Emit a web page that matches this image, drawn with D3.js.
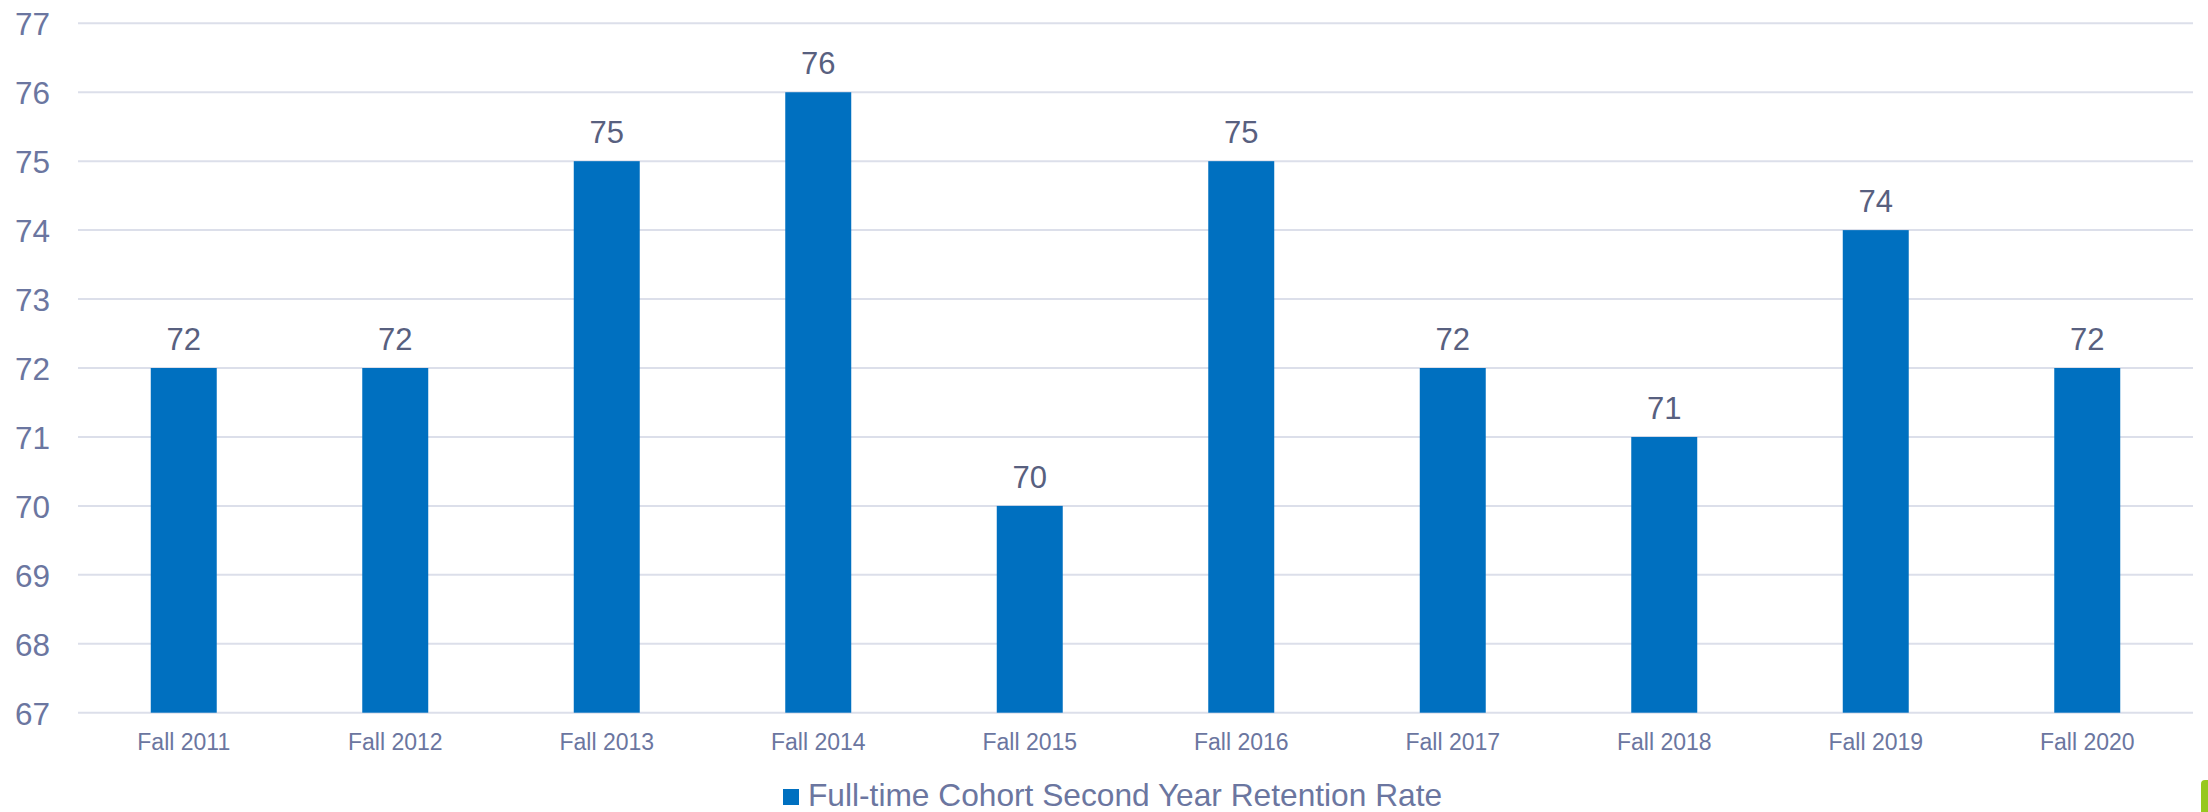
<!DOCTYPE html>
<html>
<head>
<meta charset="utf-8">
<script src="https://cdn.jsdelivr.net/npm/d3@7"></script>
<style>
  html, body { margin: 0; padding: 0; background: #fff; }
  svg { display: block; font-family: "Liberation Sans", Arial, sans-serif; }
</style>
</head>
<body>
<svg id="chart"></svg>
<script>
// data
var terms = ["Fall 2011", "Fall 2012", "Fall 2013", "Fall 2014", "Fall 2015",
             "Fall 2016", "Fall 2017", "Fall 2018", "Fall 2019", "Fall 2020"];
var retention = [72, 72, 75, 76, 70, 75, 72, 71, 74, 72];
var yTicks = [67, 68, 69, 70, 71, 72, 73, 74, 75, 76, 77];
var seriesName = "Full-time Cohort Second Year Retention Rate";

var dimensions = {
    width: 2208,
    height: 812,
    plotLeft: 78,
    plotRight: 2193,
    plotTop: 23.3,
    plotBottom: 712.7
}

var barColor = "#0070C0"
var tickColor = "#6B76A0"
var labelColor = "#58607F"
var gridColor = "#DCDFEA"

var svg = d3.select("#chart")
            .attr("width", dimensions.width)
            .attr("height", dimensions.height)

var xScale = d3.scaleBand()
        .domain(terms)
        .range([dimensions.plotLeft, dimensions.plotRight])
        .paddingInner(0.688)
        .paddingOuter(0.344)

var yScale = d3.scaleLinear()
        .domain([67, 77])
        .range([dimensions.plotBottom, dimensions.plotTop])

// gridlines
svg.append("g")
    .selectAll("line")
    .data(yTicks)
    .enter()
    .append("line")
    .attr("x1", dimensions.plotLeft)
    .attr("x2", dimensions.plotRight)
    .attr("y1", d => yScale(d))
    .attr("y2", d => yScale(d))
    .attr("stroke", gridColor)
    .attr("stroke-width", 2)

// y axis
var yAxis = svg.append("g")
    .attr("transform", `translate(${50}, 0)`)
    .call(d3.axisLeft(yScale).tickValues(yTicks).tickSize(0).tickPadding(0).tickFormat(d3.format("d")))
yAxis.select(".domain").remove()
yAxis.selectAll("text")
    .attr("fill", tickColor)
    .style("font-size", "31.5px")
    .attr("dy", "0.36em")

// bars
svg.append("g")
    .selectAll("rect")
    .data(retention)
    .enter()
    .append("rect")
    .attr("x", (d, i) => xScale(terms[i]))
    .attr("width", xScale.bandwidth())
    .attr("y", d => yScale(d))
    .attr("height", d => yScale(67) - yScale(d))
    .attr("fill", barColor)

// data labels
svg.append("g")
    .selectAll("text")
    .data(retention)
    .enter()
    .append("text")
    .attr("x", (d, i) => xScale(terms[i]) + xScale.bandwidth() / 2)
    .attr("y", d => yScale(d) - 18)
    .attr("text-anchor", "middle")
    .attr("fill", labelColor)
    .style("font-size", "31px")
    .text(d => d)

// x axis
var xAxis = svg.append("g")
    .attr("transform", `translate(0, ${dimensions.plotBottom})`)
    .call(d3.axisBottom(xScale).tickSize(0).tickPadding(0))
xAxis.select(".domain").remove()
xAxis.selectAll("text")
    .attr("fill", tickColor)
    .attr("dy", null)
    .attr("y", 37)
    .style("font-size", "23px")

// legend
var legend = svg.append("g")
legend.append("rect")
    .attr("x", 783)
    .attr("y", 789)
    .attr("width", 16)
    .attr("height", 16)
    .attr("fill", barColor)
legend.append("text")
    .attr("x", 808)
    .attr("y", 806)
    .attr("fill", tickColor)
    .style("font-size", "31.7px")
    .text(seriesName)

// little green corner tab
svg.append("rect")
    .attr("x", 2201)
    .attr("y", 780)
    .attr("width", 20)
    .attr("height", 50)
    .attr("rx", 4)
    .attr("fill", "#96C81E")
</script>
</body>
</html>
